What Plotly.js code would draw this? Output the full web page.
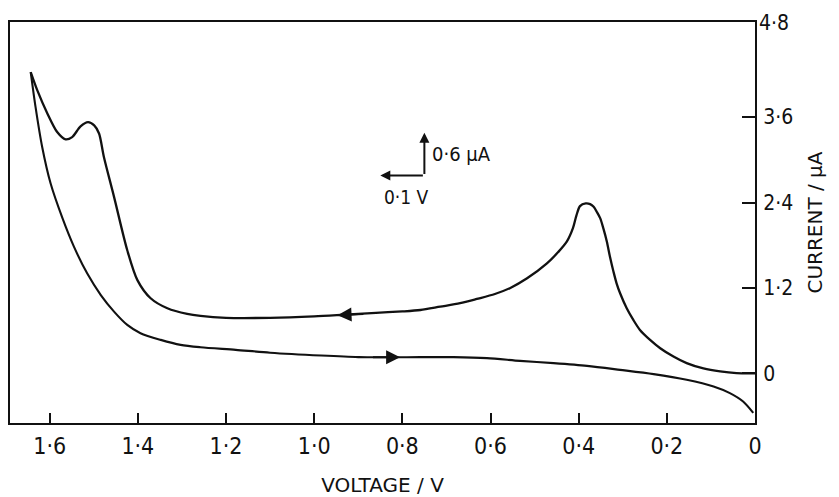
<!DOCTYPE html>
<html>
<head>
<meta charset="utf-8">
<script src="https://cdn.plot.ly/plotly-3.0.1.min.js"></script>
<style>html,body{margin:0;padding:0;background:#fff;}#chart{width:839px;height:497px;}</style>
</head>
<body>
<div id="chart"></div>
<script>
// Forward (anodic) scan: 0 V -> 1.64 V, upper branch
const forwardVoltage = [
  0.000, 0.042, 0.079, 0.117, 0.155, 0.185, 0.215, 0.238, 0.261, 0.276,
  0.291, 0.306, 0.314, 0.321, 0.329, 0.336, 0.344, 0.351, 0.359, 0.366,
  0.374, 0.384, 0.397, 0.405, 0.413, 0.427, 0.447, 0.472, 0.517, 0.555,
  0.590, 0.631, 0.669, 0.714, 0.759, 0.800, 0.860, 0.940, 1.000, 1.100,
  1.200, 1.258, 1.288, 1.333, 1.371, 1.401, 1.424, 1.454, 1.477, 1.488,
  1.499, 1.513, 1.530, 1.549, 1.564, 1.583, 1.605, 1.628, 1.643];
const forwardCurrent = [
  0.000, 0.003, 0.026, 0.068, 0.143, 0.236, 0.353, 0.470, 0.610, 0.750,
  0.914, 1.125, 1.265, 1.428, 1.638, 1.849, 2.036, 2.177, 2.270, 2.340,
  2.377, 2.387, 2.350, 2.220, 2.040, 1.850, 1.700, 1.545, 1.335, 1.200,
  1.115, 1.045, 0.985, 0.937, 0.890, 0.870, 0.850, 0.820, 0.800, 0.780,
  0.780, 0.806, 0.834, 0.914, 1.055, 1.310, 1.730, 2.480, 3.040, 3.370,
  3.485, 3.530, 3.470, 3.320, 3.289, 3.391, 3.649, 3.976, 4.233];

// Reverse (cathodic) scan: 1.64 V -> 0 V, lower branch
const reverseVoltage = [
  1.643, 1.632, 1.617, 1.598, 1.571, 1.545, 1.515, 1.484, 1.454, 1.424,
  1.394, 1.348, 1.303, 1.258, 1.178, 1.100, 0.984, 0.900, 0.820, 0.759,
  0.684, 0.608, 0.533, 0.457, 0.381, 0.306, 0.230, 0.155, 0.094, 0.057,
  0.027, 0.004];
const reverseCurrent = [
  4.233, 3.740, 3.180, 2.670, 2.180, 1.780, 1.405, 1.100, 0.867, 0.680,
  0.564, 0.470, 0.400, 0.367, 0.330, 0.290, 0.250, 0.228, 0.225, 0.227,
  0.227, 0.213, 0.175, 0.143, 0.105, 0.049, -0.011, -0.091, -0.185, -0.278,
  -0.396, -0.555];

// Tick labels
const xTickVals = [1.6, 1.4, 1.2, 1.0, 0.8, 0.6, 0.4, 0.2, 0];
const xTickText = ['1·6', '1·4', '1·2', '1·0', '0·8', '0·6', '0·4', '0·2', '0'];
const yTickVals = [0, 1.2, 2.4, 3.6];
const yTickText = ['0', '1·2', '2·4', '3·6'];
const yTopTickVal = 4.8;
const yTopTickText = '4·8';

// Scale bar (data units)
const scaleOrigin = [0.75, 2.78];
const scaleVoltage = 0.1;
const scaleCurrent = 0.6;

// Direction arrows on the branches: [tipV, tipI, tailV, tailI]
const forwardArrow = [0.947, 0.817, 0.885, 0.834];
const reverseArrow = [0.805, 0.225, 0.870, 0.226];

const ink = '#111';
const labelFamily = 'DejaVu Sans Condensed, Liberation Sans Narrow, sans-serif';
const xTickFont = {family: labelFamily, size: 23, color: ink};
const yTickFont = {family: labelFamily, size: 21, color: ink};
const titleFont = {family: 'DejaVu Sans, sans-serif', size: 20, color: ink};
const xRange = [1.69, 0];
const yRange = [-0.698, 4.937];

const traces = [
  {x: forwardVoltage, y: forwardCurrent, type: 'scatter', mode: 'lines', name: 'Forward scan',
   line: {color: ink, width: 2.3, shape: 'spline', smoothing: 0.8}, hoverinfo: 'x+y'},
  {x: reverseVoltage, y: reverseCurrent, type: 'scatter', mode: 'lines', name: 'Reverse scan',
   line: {color: ink, width: 2.1, shape: 'spline', smoothing: 0.8}, hoverinfo: 'x+y'}
];

function arrowAnn(a) {
  return {x: a[0], y: a[1], ax: a[2], ay: a[3], xref: 'x', yref: 'y', axref: 'x', ayref: 'y',
          text: '', showarrow: true, arrowhead: 2, arrowsize: 1.4, arrowwidth: 2, arrowcolor: ink, standoff: 0, startstandoff: 0};
}

const annotations = [
  arrowAnn(forwardArrow),
  arrowAnn(reverseArrow),
  // scale bar: vertical 0.6 µA
  {x: scaleOrigin[0], y: scaleOrigin[1] + scaleCurrent, ax: scaleOrigin[0], ay: scaleOrigin[1],
   xref: 'x', yref: 'y', axref: 'x', ayref: 'y', text: '', showarrow: true, arrowhead: 2,
   arrowsize: 1, arrowwidth: 2, arrowcolor: ink, standoff: 0, startstandoff: 0},
  // scale bar: horizontal 0.1 V
  {x: scaleOrigin[0] + scaleVoltage, y: scaleOrigin[1], ax: scaleOrigin[0], ay: scaleOrigin[1],
   xref: 'x', yref: 'y', axref: 'x', ayref: 'y', text: '', showarrow: true, arrowhead: 2,
   arrowsize: 1, arrowwidth: 2, arrowcolor: ink, standoff: 0, startstandoff: 0},
  {x: scaleOrigin[0] - 0.012, y: scaleOrigin[1] + scaleCurrent / 2, xref: 'x', yref: 'y',
   text: '0·6 µA', showarrow: false, xanchor: 'left', yanchor: 'middle',
   font: {family: labelFamily, size: 20, color: ink}},
  {x: scaleOrigin[0] + scaleVoltage / 2 - 0.01, y: scaleOrigin[1] - 0.3, xref: 'x', yref: 'y',
   text: '0·1 V', showarrow: false, xanchor: 'center', yanchor: 'middle',
   font: {family: labelFamily, size: 19, color: ink}},
  // top tick label of the current axis (at the frame corner)
  {x: 1, xref: 'paper', y: yTopTickVal, yref: 'y', text: yTopTickText, showarrow: false,
   xanchor: 'left', yanchor: 'middle', xshift: 2, yshift: 9, font: yTickFont}
];

const layout = {
  width: 839, height: 497,
  margin: {l: 10, r: 84, t: 22, b: 74, pad: 0},
  paper_bgcolor: '#fff', plot_bgcolor: '#fff',
  showlegend: false,
  xaxis: {
    range: xRange, tickmode: 'array', tickvals: xTickVals, ticktext: xTickText,
    ticks: 'inside', ticklen: 10, tickwidth: 2, tickcolor: ink,
    showline: true, linewidth: 2, linecolor: ink, mirror: true,
    showgrid: false, zeroline: false, tickfont: xTickFont, ticklabelstandoff: 1,
    title: {text: 'VOLTAGE / V', font: titleFont, standoff: 30}
  },
  yaxis: {
    range: yRange, side: 'right', tickmode: 'array', tickvals: yTickVals, ticktext: yTickText,
    ticks: 'inside', ticklen: 13, tickwidth: 2, tickcolor: ink,
    showline: true, linewidth: 2, linecolor: ink, mirror: true,
    showgrid: false, zeroline: false, tickfont: yTickFont, ticklabelstandoff: 2,
    title: {text: 'CURRENT / µA', font: titleFont, standoff: 16}
  },
  annotations: annotations
};

Plotly.newPlot('chart', traces, layout, {staticPlot: true, displayModeBar: false});
</script>
</body>
</html>
